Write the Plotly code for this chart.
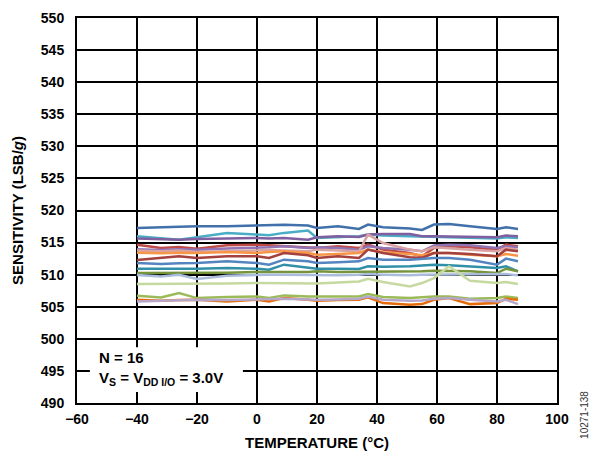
import plotly.graph_objects as go

temps = [-40, -32, -26, -20, -10, 0, 4, 9, 17, 20, 27, 34, 37, 42, 51, 55, 59, 64, 71, 80, 83, 87]

dev01 = [517.29, 517.39, 517.44, 517.55, 517.55, 517.65, 517.70, 517.76, 517.65, 517.29, 517.55, 517.13, 517.81, 517.39, 517.18, 516.97, 517.81, 517.90, 517.55, 517.13, 517.39, 517.13]
dev02 = [515.98, 515.72, 515.46, 515.83, 516.51, 516.25, 516.14, 516.51, 516.87, 515.72, 515.83, 515.98, 516.25, 516.09, 515.98, 515.93, 515.98, 515.93, 515.83, 515.62, 515.83, 515.72]
dev03 = [515.62, 515.52, 515.46, 515.57, 515.62, 515.72, 515.62, 515.72, 515.46, 515.83, 515.98, 515.88, 516.25, 516.35, 516.35, 515.98, 515.98, 515.93, 515.93, 515.83, 516.09, 515.98]
dev04 = [514.68, 514.16, 514.32, 514.06, 514.58, 514.68, 514.58, 514.42, 514.27, 514.16, 514.42, 514.16, 514.68, 513.90, 513.38, 512.86, 514.16, 514.42, 514.27, 513.90, 514.68, 514.42]
dev05 = [513.95, 513.85, 513.95, 513.90, 514.06, 514.16, 514.27, 514.42, 514.16, 514.27, 514.16, 513.90, 514.42, 514.16, 513.90, 513.64, 514.53, 514.68, 514.58, 514.16, 514.42, 514.27]
dev06 = [513.75, 513.64, 513.75, 513.54, 513.64, 513.80, 513.85, 513.75, 513.64, 513.90, 513.80, 513.64, 516.25, 514.94, 513.90, 513.64, 514.27, 514.16, 513.90, 513.64, 514.16, 513.90]
dev07 = [513.43, 513.33, 513.43, 513.38, 513.54, 513.38, 513.54, 513.64, 513.38, 513.12, 513.22, 513.38, 513.90, 513.48, 513.22, 513.02, 513.38, 513.38, 513.12, 512.86, 513.22, 512.96]
dev08 = [512.29, 512.60, 512.86, 512.60, 512.86, 512.86, 512.60, 513.38, 513.02, 512.60, 512.86, 512.60, 513.90, 513.38, 512.70, 512.60, 513.38, 513.38, 513.22, 512.86, 513.90, 513.64]
dev09 = [511.82, 511.66, 511.77, 511.82, 512.08, 511.82, 511.56, 512.34, 512.08, 511.82, 511.92, 512.08, 512.60, 512.34, 512.34, 512.50, 512.60, 512.60, 512.34, 511.56, 512.50, 512.08]
dev10 = [510.93, 510.88, 510.93, 510.93, 511.04, 510.93, 510.78, 511.56, 511.14, 510.93, 510.93, 510.88, 511.30, 511.25, 511.30, 511.40, 511.56, 511.45, 511.30, 511.04, 511.30, 510.52]
dev11 = [510.25, 510.25, 510.31, 510.20, 510.31, 510.41, 510.36, 510.41, 510.41, 510.52, 510.41, 510.41, 510.52, 510.52, 510.41, 510.52, 510.62, 510.62, 510.52, 510.25, 510.93, 510.52]
dev12 = [509.95, 509.73, 510.00, 509.32, 509.84, 510.00, 510.00, 510.00, 509.95, 510.00, 509.89, 510.00, 510.10, 510.00, 509.89, 510.00, 510.00, 510.00, 510.00, 510.00, 510.10, 509.89]
dev13 = [508.54, 508.54, 508.59, 508.59, 508.64, 508.69, 508.69, 508.69, 508.64, 508.64, 508.79, 508.95, 509.37, 508.85, 508.17, 508.69, 509.47, 511.30, 509.06, 508.69, 508.85, 508.54]
dev14 = [506.72, 506.46, 507.13, 506.35, 506.51, 506.61, 506.35, 506.77, 506.61, 506.61, 506.61, 506.61, 506.97, 506.51, 506.35, 506.46, 506.61, 506.61, 506.25, 506.35, 506.61, 506.35]
dev15 = [506.09, 505.93, 506.04, 506.09, 505.83, 506.09, 505.83, 506.35, 506.09, 505.93, 506.04, 506.09, 506.46, 505.57, 505.31, 505.41, 506.09, 506.35, 505.41, 505.57, 506.25, 506.09]
dev16 = [505.83, 505.93, 505.98, 506.09, 506.04, 506.09, 506.20, 506.25, 506.14, 506.09, 506.14, 506.25, 506.61, 506.09, 505.93, 505.98, 506.25, 506.35, 506.09, 505.83, 506.09, 505.41]

series = [dev01, dev02, dev03, dev04, dev05, dev06, dev07, dev08,
          dev09, dev10, dev11, dev12, dev13, dev14, dev15, dev16]
colors = ["#4170AA", "#4BACC6", "#7F5FA0", "#BE4B48", "#9273B3", "#D9A3A3",
          "#F79646", "#A4403D", "#5585C0", "#3190A8", "#77933C", "#A9BCDB",
          "#C6D9A0", "#9BBB59", "#E46C0A", "#B6A6CA"]

x_ticks = [-60, -40, -20, 0, 20, 40, 60, 80, 100]
y_ticks = [490, 495, 500, 505, 510, 515, 520, 525, 530, 535, 540, 545, 550]

fig = go.Figure()
for vals, col in zip(series, colors):
    fig.add_trace(go.Scatter(x=temps, y=vals, mode="lines",
                             line=dict(color=col, width=2.5), showlegend=False,
                             hoverinfo="skip"))

font_family = "Liberation Sans, Arial, sans-serif"

fig.update_layout(
    width=596, height=452,
    margin=dict(l=77, r=39, t=18, b=49, autoexpand=False),
    paper_bgcolor="white", plot_bgcolor="white",
    font=dict(family=font_family, color="black", size=14),
)
fig.update_xaxes(
    range=[-60, 100], tickvals=x_ticks, ticks="",
    showgrid=True, gridcolor="black", gridwidth=1.5,
    showline=True, linecolor="black", linewidth=2, mirror=True,
    zeroline=False, automargin=False, ticklabelstandoff=2,
    tickfont=dict(size=14, weight="bold", family=font_family),
    title=dict(text="TEMPERATURE (°C)", font=dict(size=15, weight="bold", family=font_family), standoff=12),
)
fig.update_yaxes(
    range=[490, 550], tickvals=y_ticks, ticks="",
    showgrid=True, gridcolor="black", gridwidth=1.5,
    showline=True, linecolor="black", linewidth=2, mirror=True,
    zeroline=False, automargin=False, ticklabelstandoff=8,
    tickfont=dict(size=14, weight="bold", family=font_family),
    title=dict(text="SENSITIVITY (LSB/<i>g</i>)", font=dict(size=15, weight="bold", family=font_family), standoff=14),
)

fig.add_shape(type="rect", xref="x", yref="y", x0=-55.7, x1=-4.7, y0=491.7, y1=498.7,
              fillcolor="white", line=dict(width=0), layer="above")
fig.add_annotation(xref="x", yref="y", x=-53.4, y=495.4, xanchor="left", yanchor="middle",
                   showarrow=False, align="left",
                   text="N = 16<br>V<sub>S</sub> = V<sub>DD I/O</sub> = 3.0V",
                   font=dict(size=15, weight="bold", family=font_family))
fig.add_annotation(xref="paper", yref="paper", x=1.057, y=-0.03, xanchor="center", yanchor="middle",
                   showarrow=False, textangle=-90, text="10271-138",
                   font=dict(size=10, color="#333333", family=font_family))

fig.write_html("out.html", config={"displayModeBar": False},
               post_script="document.body.style.margin='0';")
